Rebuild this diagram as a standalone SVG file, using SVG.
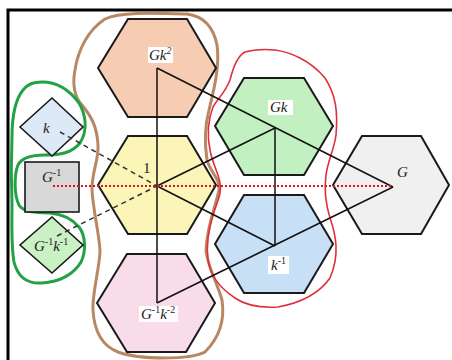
<svg xmlns="http://www.w3.org/2000/svg" width="452" height="360" viewBox="0 0 452 360">
<style>
.hex{stroke:#1a1a1a;stroke-width:2;stroke-linejoin:miter}
.sq{stroke:#1a1a1a;stroke-width:1.6}
.ln{stroke:#111;stroke-width:1.5;fill:none}
.dash{stroke:#333;stroke-width:1.5;stroke-dasharray:5 4;fill:none}
.dot{stroke:#e01020;stroke-width:2;stroke-dasharray:2 2;fill:none}
.lbl{font-family:"Liberation Serif","Times New Roman",serif;font-size:15px;fill:#222}
.it{font-style:italic}
.box{fill:#fff}
.sup{font-size:10px}
.outline{fill:none;stroke-linejoin:round;stroke-linecap:round}
</style>
<rect width="452" height="360" fill="#fff"/>
<path d="M8,360 V10 H452" fill="none" stroke="#000" stroke-width="3"/>

<g id="outlines">
<path class="outline" stroke="#b88763" stroke-width="3" d="M75,70 C78,50 88,30 105,19 C120,12 150,13 187,14 C202,16 213,25 217,45 C220,65 214,90 209,110 C205,125 204,140 207,160 C210,172 221,180 219,190 C216,205 207,225 206,250 C207,265 218,285 222,300 C225,320 220,337 205,352 C190,360 140,360 118,352 C100,345 94,328 93,310 C92,295 99,270 100,252 C100,238 93,210 92,190 C92,170 99,160 98,145 C97,125 90,115 82,105 C75,98 72,85 75,70 Z"/>
<path class="outline" stroke="#e0303c" stroke-width="1.6" d="M245,52 C255,49 265,49 275,50 C290,52 310,60 325,78 C336,95 338,112 336,135 C334,150 328,160 326,175 C324,190 326,205 330,218 C336,235 340,255 330,278 C318,295 300,303 278,307 C260,308 245,305 235,298 C220,288 210,275 208,260 C206,245 208,230 214,212 C218,200 222,192 220,183 C218,172 212,162 210,150 C207,135 208,120 213,107 C218,98 225,93 230,80 C233,68 237,56 245,52 Z"/>
<path class="outline" stroke="#23a245" stroke-width="3" d="M23,90 C28,84 33,82 42,82 C55,82 68,88 79,103 C86,115 88,130 80,143 C72,153 60,155 45,155 C32,155 22,157 18,165 C14,175 14,195 19,205 C23,212 35,213 50,213 C62,214 72,219 79,227 C86,236 86,252 81,262 C74,274 60,282 42,283 C28,284 18,278 14,262 C11,245 12,225 12,203 C11,180 11,160 12,137 C12,118 15,100 23,90 Z"/>
</g>

<g id="node-Gk2">
<polygon class="hex" fill="#f6cdb2" points="98,68 128,19 187,19 216,68 187,117 128,117"/>
</g>
<g id="node-1">
<polygon class="hex" fill="#fbf5b8" points="98,185 128,136 187,136 216,185 187,234 128,234"/>
</g>
<g id="node-Ginvk2">
<polygon class="hex" fill="#f8dcea" points="97,303 127,254 186,254 215,303 186,352 127,352"/>
</g>
<g id="node-Gk">
<polygon class="hex" fill="#c3f0c0" points="215,126 244,78 304,78 333,126 304,175 244,175"/>
</g>
<g id="node-kinv">
<polygon class="hex" fill="#c8e0f6" points="215,244 244,195 304,195 333,244 304,293 244,293"/>
</g>
<g id="node-G">
<polygon class="hex" fill="#f0f0f0" points="333,185 362,136 421,136 449,185 421,234 362,234"/>
</g>
<g id="node-k">
<polygon class="sq" fill="#dde9f7" points="52,98 83,127 52,156 20,127"/>
</g>
<g id="node-Ginv">
<rect class="sq" fill="#d8d8d8" x="25" y="162" width="54" height="50"/>
</g>
<g id="node-GinvKinv">
<polygon class="sq" fill="#c9f1c3" points="52,217 83,245 52,273 20,245"/>
</g>

<g id="connectors">
<line class="ln" x1="157" y1="68" x2="157" y2="303"/>
<line class="ln" x1="157" y1="68" x2="393" y2="187"/>
<line class="ln" x1="157" y1="186" x2="275" y2="128"/>
<line class="ln" x1="275" y1="128" x2="275" y2="246"/>
<line class="ln" x1="157" y1="186" x2="275" y2="246"/>
<line class="ln" x1="157" y1="303" x2="393" y2="187"/>
<line class="dash" x1="60" y1="132" x2="157" y2="186"/>
<line class="dash" x1="57" y1="236" x2="157" y2="186"/>
<line class="dot" x1="53" y1="186" x2="393" y2="186"/>
</g>

<g id="labels">
<rect class="box" x="148" y="47" width="25" height="16"/>
<text class="lbl it" x="149" y="60">Gk<tspan class="sup" dy="-6">2</tspan></text>
<text class="lbl" x="143" y="173">1</text>
<rect class="box" x="268" y="100" width="25" height="15"/>
<text class="lbl it" x="270" y="112">Gk</text>
<text class="lbl it" x="397" y="177">G</text>
<rect class="box" x="268" y="256" width="21" height="18"/>
<text class="lbl it" x="271" y="270">k<tspan class="sup" font-style="normal" dy="-6">-1</tspan></text>
<rect class="box" x="139" y="306" width="39" height="16"/>
<text class="lbl" x="141" y="319"><tspan class="it">G</tspan><tspan class="sup" dy="-6">-1</tspan><tspan class="it" dy="6">k</tspan><tspan class="sup" dy="-6">-2</tspan></text>
<text class="lbl it" x="43" y="133">k</text>
<text class="lbl" x="42" y="182"><tspan class="it">G</tspan><tspan class="sup" dy="-6">-1</tspan></text>
<text class="lbl" x="34" y="251"><tspan class="it">G</tspan><tspan class="sup" dy="-6">-1</tspan><tspan class="it" dy="6">k</tspan><tspan class="sup" dy="-6">-1</tspan></text>
</g>
</svg>
